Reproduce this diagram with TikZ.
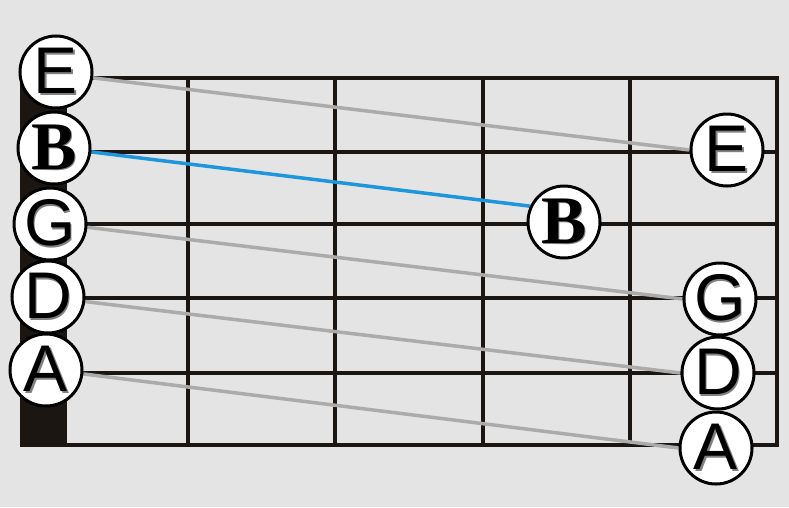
\documentclass[tikz,border=0pt]{standalone}
\usepackage{fontspec}
\setmainfont{Liberation Sans}
\newfontfamily\serifletter{Liberation Serif}
\usetikzlibrary{backgrounds}

\definecolor{bgGray}{HTML}{E4E4E4}
\definecolor{fretBlack}{HTML}{1C1612}
\definecolor{lineGray}{HTML}{ABABAB}
\definecolor{lineBlue}{HTML}{1E96DC}

% letter with a light offset shadow
\newcommand{\ghost}[1]{\makebox[0pt][l]{\hspace{1.5pt}\raisebox{-1.5pt}{\textcolor{gray}{#1}}}#1}

\begin{document}
\begin{tikzpicture}[x=1pt, y=-1pt]
    % Define styles
    \tikzset{
        note/.style={circle, draw=black, line width=3pt, fill=white, minimum size=72pt, inner sep=0pt, font=\fontsize{66}{66}\selectfont},
        bnote/.style={note, font=\fontsize{68}{68}\selectfont\serifletter\bfseries},
        fret/.style={draw=fretBlack, line width=4pt},
        tieline/.style={draw=lineGray, line width=3.5pt},
        blueline/.style={draw=lineBlue, line width=3.5pt}
    }

    \useasboundingbox (0,0) rectangle (789,507);

    % Open strings (left)
    \node[note] (eL) at (56,72) {\ghost{E}};
    \node[bnote] (bL) at (54,148) {\ghost{B}};
    \node[note] (gL) at (50,224) {\ghost{G}};
    \node[note] (dL) at (48,297) {\ghost{D}};
    \node[note] (aL) at (46,370) {\ghost{A}};

    % Fretted notes
    \node[note] (eR) at (727,150) {\ghost{E}};
    \node[bnote] (bM) at (564,222) {\ghost{B}};
    \node[note] (gR) at (720,299) {\ghost{G}};
    \node[note] (dR) at (718,373) {\ghost{D}};
    \node[note] (aR) at (716,448) {\ghost{A}};

    \begin{scope}[on background layer]
        % Background
        \fill[bgGray] (0,0) rectangle (789,507);

        % Nut
        \fill[fretBlack] (20,75) rectangle (65,447);

        % Strings and frets
        \draw[fret] (65,78) rectangle (777,445);
        \foreach \y in {152,224,298,373}
            \draw[fret] (65,\y) -- (777,\y);
        \foreach \x in {188,335,483,630}
            \draw[fret] (\x,78) -- (\x,445);

        % Connectors
        \draw[tieline] (eL.-9) -- (eR.west);
        \draw[blueline] (bL.-6) -- (bM.155);
        \draw[tieline] (gL.-5) -- (gR.west);
        \draw[tieline] (dL.-7) -- (dR.west);
        \draw[tieline] (aL.-6) -- (aR.west);
    \end{scope}

\end{tikzpicture}
\end{document}
